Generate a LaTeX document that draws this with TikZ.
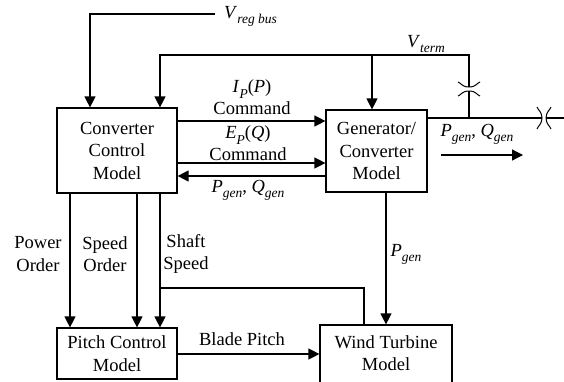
\documentclass[tikz,border=0pt]{standalone}
\usepackage{fontspec}
\setmainfont{Liberation Serif}
\usetikzlibrary{arrows.meta,calc}
\newcommand\mysub[1]{\raisebox{-0.28em}{\fontsize{13.5}{13.5}\selectfont\itshape #1}}
\tikzset{
  base/.style={font=\fontsize{18.5}{22.5}\selectfont},
  box/.style={base,draw,line width=1.2pt,align=center,inner sep=0pt},
  lbl/.style={base,align=center,inner sep=1pt},
  ln/.style={line width=1.2pt},
  coil/.style={line width=1pt},
  arr/.style={ln,-{Triangle[length=11pt,width=11pt]}},
}
\begin{document}
\begin{tikzpicture}[x=1pt,y=-1pt]
\clip (0,0) rectangle (564,381);
\fill[white] (0,0) rectangle (564,381);
% boxes
\node[box,minimum width=120pt,minimum height=85pt] (ccm) at (117,150.5) {Converter\\Control\\Model};
\node[box,minimum width=101pt,minimum height=82pt] (gen) at (376.5,151) {Generator/\\Converter\\Model};
\node[box,minimum width=120pt,minimum height=51pt] (pcm) at (117,353.5) {Pitch Control\\Model};
\node[box,minimum width=132pt,minimum height=80pt] (wt) at (386,365) {};
\node[lbl] (wttext) at (386,353) {Wind Turbine\\Model};
% coordinates
\coordinate (vregend) at (215,14);
\coordinate (vtline) at (0,55);
\coordinate (uc) at (469,87);
\coordinate (lc) at (469,91);
\coordinate (outline) at (0,118);
\coordinate (hl) at (542,118);
\coordinate (hr) at (546,118);
\coordinate (edge) at (570,118);
\coordinate (pqa) at (441,155);
\coordinate (pqb) at (523,155);
\coordinate (shaft) at (160,288);
% labels
\node[lbl,anchor=west] (vreg) at (223,16) {\textit{V}\mysub{reg bus}};
\node[lbl] (vterm) at (426,44) {\textit{V}\mysub{term}};
\node[lbl] (ipp) at (252,89) {\textit{I}\mysub{P}(\textit{P})};
\node[lbl] (ipc) at (252,108) {Command};
\node[lbl] (epq) at (248,135) {\textit{E}\mysub{P}(\textit{Q})};
\node[lbl] (epc) at (248,154) {Command};
\node[lbl] (pqback) at (248,190) {\textit{P}\mysub{gen}, \textit{Q}\mysub{gen}};
\node[lbl] (pqout) at (477,134) {\textit{P}\mysub{gen}, \textit{Q}\mysub{gen}};
\node[lbl] (po) at (38,254) {Power\\Order};
\node[lbl] (so) at (105,254) {Speed\\Order};
\node[lbl] (ss) at (186,254) {Shaft\\Speed};
\node[lbl] (bp) at (242,339) {Blade Pitch};
\node[lbl] (pg) at (406,254) {\textit{P}\mysub{gen}};
% connectors
\draw[arr] (vregend) -| ([xshift=-27pt]ccm.north);
\draw[arr] (uc) -- (uc |- vtline) -| ([xshift=43pt]ccm.north);
\draw[arr] ([xshift=-4.5pt]gen.north |- vtline) -- ([xshift=-4.5pt]gen.north);
\draw[ln] (lc) -- (lc |- outline);
\draw[ln] (gen.east |- outline) -- (hl);
\draw[ln] (hr) -- (edge);
% transformer symbols
\draw[coil] (458,82) .. controls (461,83) and (462,87) .. (uc) .. controls (476,87) and (477,83) .. (480,82);
\draw[coil] (458,96) .. controls (461,95) and (462,91) .. (lc) .. controls (476,91) and (477,95) .. (480,96);
\draw[coil] (537,107) .. controls (538,110) and (542,112) .. (hl) .. controls (542,124) and (538,126) .. (537,129);
\draw[coil] (551,107) .. controls (550,110) and (546,112) .. (hr) .. controls (546,124) and (550,126) .. (551,129);
% horizontal arrows
\draw[arr] (ccm.east |- 0,121) -- (gen.west |- 0,121);
\draw[arr] (ccm.east |- 0,163) -- (gen.west |- 0,163);
\draw[arr] (gen.west |- 0,176) -- (ccm.east |- 0,176);
\draw[arr] (pqa) -- (pqb);
% vertical arrows
\draw[arr] (ccm.south -| 70,0) -- (pcm.north -| 70,0);
\draw[arr] (ccm.south -| 137,0) -- (pcm.north -| 137,0);
\draw[arr] (ccm.south -| 160,0) -- (pcm.north -| 160,0);
\draw[ln] (shaft) -| (wt.north -| 364,0);
\draw[arr] (pcm.east |- 0,354) -- (wt.west |- 0,354);
\draw[arr] (gen.south -| 386,0) -- (wt.north -| 386,0);
\end{tikzpicture}
\end{document}
